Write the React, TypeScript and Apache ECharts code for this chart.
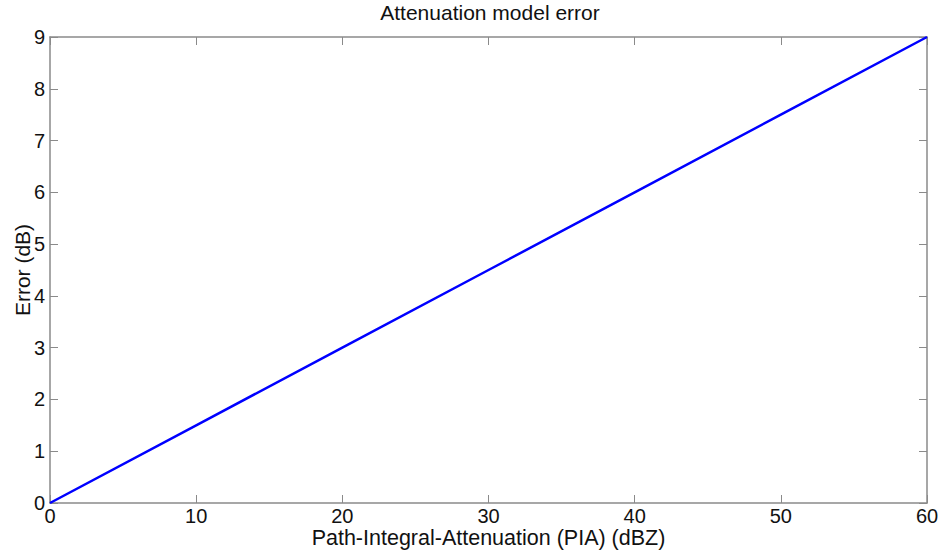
import React, { useEffect, useRef } from "react";
import * as echarts from "echarts";

// Path-integral attenuation (dBZ) and resulting model error (dB)
const piaValues = [0, 10, 20, 30, 40, 50, 60];
const errorValues = [0, 1.5, 3, 4.5, 6, 7.5, 9];

const xTicks = [0, 10, 20, 30, 40, 50, 60];
const yTicks = [0, 1, 2, 3, 4, 5, 6, 7, 8, 9];

const FONT = "Liberation Sans, Arial, sans-serif";
const AXIS_COLOR = "#8a8a8a";

export default function App() {
  const ref = useRef<HTMLDivElement>(null);

  useEffect(() => {
    if (!ref.current) return;
    const chart = echarts.init(ref.current, null, { renderer: "svg" });
    const tickStyle = { show: true, inside: true, length: 8, lineStyle: { color: AXIS_COLOR, width: 1 } };
    const lineStyle = { show: true, onZero: false, lineStyle: { color: AXIS_COLOR, width: 1.5 } };
    chart.setOption({
      animation: false,
      backgroundColor: "#ffffff",
      graphic: [
        {
          type: "text",
          x: 490,
          y: 2,
          style: {
            text: "Attenuation model error",
            align: "center",
            verticalAlign: "top",
            fontFamily: FONT,
            fontSize: 21,
            fill: "#111",
          },
        },
      ],
      grid: {
        left: 50,
        top: 37,
        width: 877,
        height: 466,
        containLabel: false,
        outerBoundsMode: "none",
      },
      xAxis: [
        {
          type: "value",
          min: 0,
          max: 60,
          interval: 10,
          position: "bottom",
          axisLine: lineStyle,
          axisTick: tickStyle,
          splitLine: { show: false },
          axisLabel: {
            margin: 3,
            fontFamily: FONT,
            fontSize: 20,
            color: "#111",
            formatter: (v: number) => (xTicks.includes(v) ? String(v) : ""),
          },
          name: "Path-Integral-Attenuation (PIA) (dBZ)",
          nameLocation: "middle",
          nameMoveOverlap: false,
          nameGap: 24,
          nameTextStyle: { fontFamily: FONT, fontSize: 21.5, color: "#111", verticalAlign: "top" },
        },
        {
          type: "value",
          min: 0,
          max: 60,
          interval: 10,
          position: "top",
          axisLine: lineStyle,
          axisTick: tickStyle,
          axisLabel: { show: false },
          splitLine: { show: false },
        },
      ],
      yAxis: [
        {
          type: "value",
          min: 0,
          max: 9,
          interval: 1,
          position: "left",
          axisLine: lineStyle,
          axisTick: tickStyle,
          splitLine: { show: false },
          axisLabel: {
            margin: 5,
            fontFamily: FONT,
            fontSize: 20,
            color: "#111",
            formatter: (v: number) => (yTicks.includes(v) ? String(v) : ""),
          },
          name: "Error (dB)",
          nameLocation: "middle",
          nameMoveOverlap: false,
          nameGap: 17,
          nameRotate: 90,
          nameTextStyle: { fontFamily: FONT, fontSize: 21, color: "#111" },
        },
        {
          type: "value",
          min: 0,
          max: 9,
          interval: 1,
          position: "right",
          axisLine: lineStyle,
          axisTick: tickStyle,
          axisLabel: { show: false },
          splitLine: { show: false },
        },
      ],
      series: [
        {
          type: "line",
          xAxisIndex: 0,
          yAxisIndex: 0,
          data: piaValues.map((x, i) => [x, errorValues[i]]),
          showSymbol: false,
          symbol: "none",
          lineStyle: { color: "#0000ff", width: 2.5 },
        },
      ],
    });
    return () => chart.dispose();
  }, []);

  return (
    <div
      ref={ref}
      style={{ position: "fixed", left: 0, top: 0, width: 943, height: 554, background: "#fff" }}
    />
  );
}
